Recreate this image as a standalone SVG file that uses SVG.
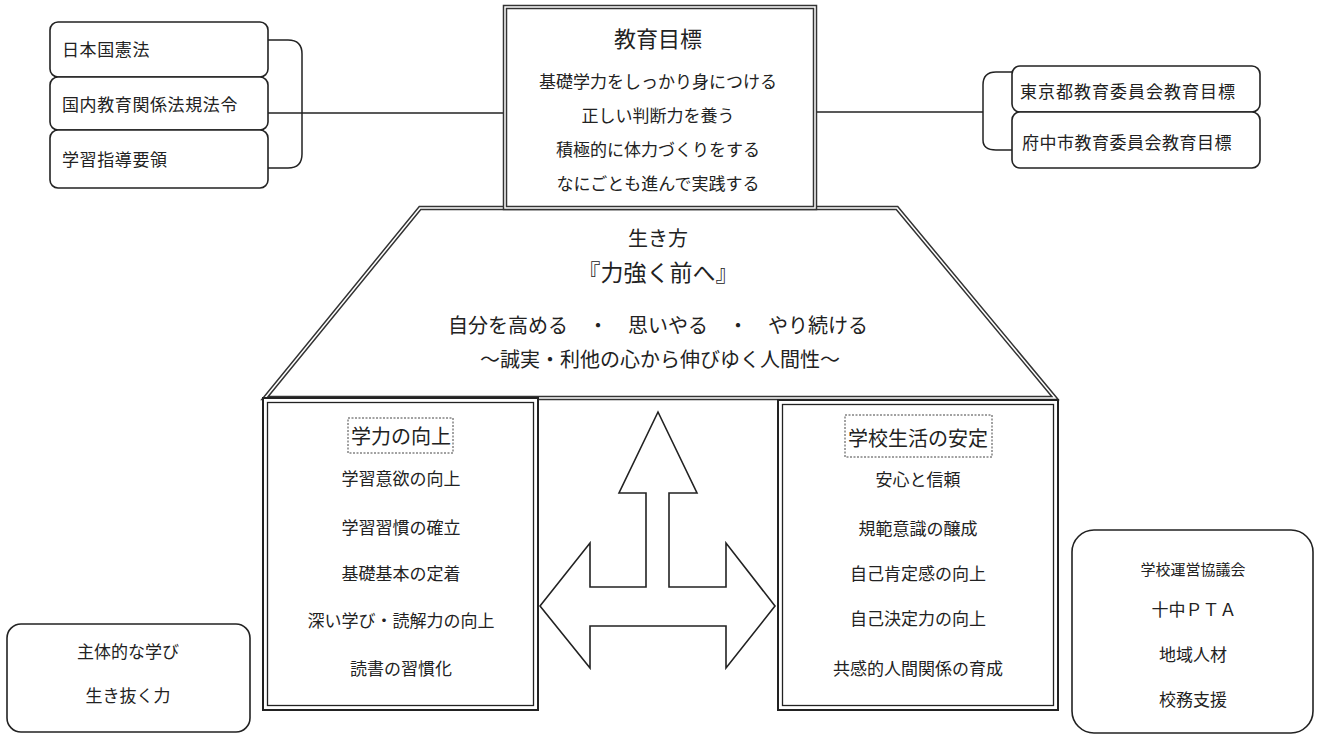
<svg xmlns="http://www.w3.org/2000/svg" width="1319" height="737" viewBox="0 0 1319 737">
<style>
text{font-family:"Noto Sans CJK JP","Noto Sans",sans-serif;fill:#222;dominant-baseline:central}
.c{text-anchor:middle}
.s17{font-size:17px}
.rb{fill:#fff;stroke:#222;stroke-width:1.6}
.dblo{fill:none;stroke:#333;stroke-width:4.5}
.dbli{fill:none;stroke:#fff;stroke-width:1.5}
.ln{fill:none;stroke:#222;stroke-width:1.5}
.dot{fill:none;stroke:#444;stroke-width:1;stroke-dasharray:2 1.5}
</style>
<rect width="1319" height="737" fill="#fff"/>
<g id="connectors">
  <path class="ln" d="M268,113 H505"/>
  <path class="ln" d="M268,40 H288 Q302,40 302,54 V154 Q302,168 288,168 H268"/>
  <path class="ln" d="M815,112 H983"/>
  <path class="ln" d="M1012,72 H996 Q983,72 983,85 V140 Q983,150 996,150 H1012"/>
</g>
<g id="law-boxes">
  <g id="node-kenpo"><rect class="rb" x="50" y="22" width="218" height="55" rx="8"/><text class="s17" x="62" y="48" letter-spacing="0.6">日本国憲法</text></g>
  <g id="node-hoki"><rect class="rb" x="50" y="77" width="218" height="53" rx="8"/><text class="s17" x="62" y="103" letter-spacing="0.6">国内教育関係法規法令</text></g>
  <g id="node-yoryo"><rect class="rb" x="50" y="130" width="218" height="58" rx="8"/><text class="s17" x="62" y="158" letter-spacing="0.6">学習指導要領</text></g>
</g>
<g id="goal-boxes">
  <g id="node-tokyo"><rect class="rb" x="1012" y="66" width="248" height="46" rx="8"/><text class="s17" x="1020" y="90" letter-spacing="1">東京都教育委員会教育目標</text></g>
  <g id="node-fuchu"><rect class="rb" x="1012" y="112" width="248" height="56" rx="8"/><text class="s17" x="1022" y="141" letter-spacing="0.5">府中市教育委員会教育目標</text></g>
</g>
<g id="node-trapezoid">
  <path class="dblo" d="M420,208 H897 L1055,398 H265 Z"/>
  <path class="dbli" d="M420,208 H897 L1055,398 H265 Z"/>
  <text class="c" x="658" y="237" font-size="20">生き方</text>
  <text class="c" x="658" y="271" font-size="23">『力強く前へ』</text>
  <text class="c" x="658" y="324" font-size="20">自分を高める　・　思いやる　・　やり続ける</text>
  <text class="c" x="660" y="358" font-size="20">～誠実・利他の心から伸びゆく人間性～</text>
</g>
<g id="node-goal">
  <rect x="505" y="7" width="310" height="201" fill="#fff"/>
  <rect class="dblo" x="505" y="7" width="310" height="201"/>
  <rect class="dbli" x="505" y="7" width="310" height="201"/>
  <text class="c" x="658" y="37" font-size="22">教育目標</text>
  <text class="c s17" x="658" y="80">基礎学力をしっかり身につける</text>
  <text class="c s17" x="658" y="114">正しい判断力を養う</text>
  <text class="c s17" x="658" y="148">積極的に体力づくりをする</text>
  <text class="c s17" x="658" y="182">なにごとも進んで実践する</text>
</g>
<g id="node-gakuryoku">
  <rect x="263" y="398" width="275" height="312" fill="#fff" stroke="#222" stroke-width="2"/>
  <rect x="267.5" y="402.5" width="266" height="303" fill="none" stroke="#222" stroke-width="1.3"/>
  <rect class="dot" x="348" y="418" width="105" height="35"/>
  <text class="c" x="401" y="435" font-size="20">学力の向上</text>
  <text class="c s17" x="401" y="477">学習意欲の向上</text>
  <text class="c s17" x="401" y="526">学習習慣の確立</text>
  <text class="c s17" x="401" y="572">基礎基本の定着</text>
  <text class="c s17" x="401" y="619">深い学び・読解力の向上</text>
  <text class="c s17" x="401" y="667">読書の習慣化</text>
</g>
<g id="node-seikatsu">
  <rect x="778" y="400" width="280" height="310" fill="#fff" stroke="#222" stroke-width="2"/>
  <rect x="782.5" y="404.5" width="271" height="301" fill="none" stroke="#222" stroke-width="1.3"/>
  <rect class="dot" x="845" y="415" width="147" height="42"/>
  <text class="c" x="918" y="437" font-size="20">学校生活の安定</text>
  <text class="c s17" x="918" y="478">安心と信頼</text>
  <text class="c s17" x="918" y="527">規範意識の醸成</text>
  <text class="c s17" x="918" y="572">自己肯定感の向上</text>
  <text class="c s17" x="918" y="617">自己決定力の向上</text>
  <text class="c s17" x="918" y="667">共感的人間関係の育成</text>
</g>
<g id="node-arrow">
  <polygon points="658,412 697,493 669,493 669,587 726,587 726,543 775,606 726,668 726,626 590,626 590,668 540,606 590,543 590,587 646,587 646,493 619,493" fill="#fff" stroke="#222" stroke-width="1.6" stroke-linejoin="miter"/>
</g>
<g id="node-shutai">
  <rect class="rb" x="7" y="624" width="243" height="108" rx="14"/>
  <text class="c s17" x="128" y="650">主体的な学び</text>
  <text class="c s17" x="128" y="694">生き抜く力</text>
</g>
<g id="node-support">
  <rect class="rb" x="1072" y="530" width="241" height="203" rx="22"/>
  <text class="c" x="1193" y="568" font-size="15">学校運営協議会</text>
  <text class="c" x="1194" y="608" font-size="17">十中ＰＴＡ</text>
  <text class="c" x="1193" y="653" font-size="17">地域人材</text>
  <text class="c" x="1193" y="698" font-size="17">校務支援</text>
</g>
</svg>
